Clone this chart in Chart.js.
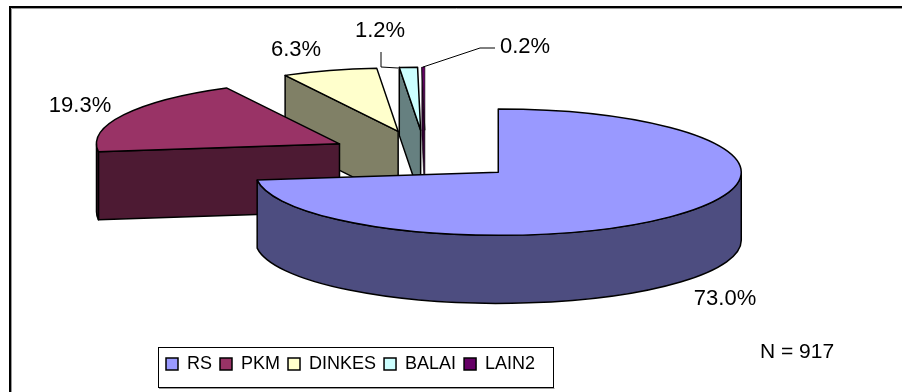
<!DOCTYPE html>
<html>
<head>
<meta charset="utf-8">
<style>
  html, body { margin: 0; padding: 0; background: #fff; }
  #box { position: relative; width: 902px; height: 392px; }
</style>
<script src="https://cdn.jsdelivr.net/npm/chart.js@4"></script>
</head>
<body>
<div id="box"><canvas id="pie3d" width="902" height="392"></canvas></div>
<script>
const categories = ['RS', 'PKM', 'DINKES', 'BALAI', 'LAIN2'];
const percents = [73.0, 19.3, 6.3, 1.2, 0.2];
const percentLabels = ['73.0%', '19.3%', '6.3%', '1.2%', '0.2%'];
const topColors = ['#9999FF', '#993366', '#FFFFCC', '#CCFFFF', '#660066'];
const sideColors = ['#4D4D80', '#4D1A33', '#808066', '#668080', '#330033'];
const labelSpots = [[725, 299], [80, 106], [296, 50], [380, 31], [525, 47]];
const totalNote = 'N = 917';

const tilt = 0.26;    // aplatissement de l'ellipse
const depth = 68;     // hauteur du "gateau"
const explode = 97;   // ecart des parts, lu dans arc.options.offset

// Position (x, y) a l'ecran d'un point de la part
function project(arc, angle, r, drop) {
  const mid = (arc.startAngle + arc.endAngle) / 2;
  const shift = arc.options.offset;
  return [
    arc.x + Math.cos(mid) * shift + Math.cos(angle) * r,
    arc.y + (Math.sin(mid) * shift + Math.sin(angle) * r) * tilt + drop
  ];
}

function strokeFill(ctx, fill) {
  ctx.fillStyle = fill;
  ctx.fill();
  ctx.stroke();
}

// Face plane visible de la coupe (seulement celles tournees vers l'avant)
function drawCut(ctx, arc, angle, fill) {
  const a = project(arc, angle, 0, 0);
  const b = project(arc, angle, arc.outerRadius, 0);
  ctx.beginPath();
  ctx.moveTo(a[0], a[1]);
  ctx.lineTo(b[0], b[1]);
  ctx.lineTo(b[0], b[1] + depth);
  ctx.lineTo(a[0], a[1] + depth);
  ctx.closePath();
  strokeFill(ctx, fill);
}

// Bord exterieur de la part, seulement la moitie avant de l'ellipse
function drawRim(ctx, arc, fill) {
  const first = Math.max(arc.startAngle, 0);
  const last = Math.min(arc.endAngle, Math.PI);
  if (last <= first) return;
  const o = project(arc, 0, 0, 0);
  const r = arc.outerRadius;
  ctx.beginPath();
  ctx.ellipse(o[0], o[1], r, r * tilt, 0, first, last);
  ctx.ellipse(o[0], o[1] + depth, r, r * tilt, 0, last, first, true);
  ctx.closePath();
  strokeFill(ctx, fill);
}

function drawTop(ctx, arc, fill) {
  const o = project(arc, 0, 0, 0);
  const r = arc.outerRadius;
  ctx.beginPath();
  ctx.moveTo(o[0], o[1]);
  ctx.ellipse(o[0], o[1], r, r * tilt, 0, arc.startAngle, arc.endAngle);
  ctx.closePath();
  strokeFill(ctx, fill);
}

const pie3dPlugin = {
  id: 'pie3d',
  afterLayout(chart) {
    // la legende encadree n'est pas collee au bord
    const legend = chart.legend;
    legend.left = 158;
    legend.right = 553;
    legend.top = 347;
    legend.bottom = 387;
  },
  beforeDatasetDraw(chart, args) {
    const ctx = chart.ctx;
    const arcs = args.meta.data;
    ctx.save();
    ctx.strokeStyle = '#000';
    ctx.lineJoin = 'round';
    // de l'arriere vers l'avant
    for (let i = arcs.length - 1; i >= 0; i--) {
      const arc = arcs[i];
      // trait fin sur la toute petite part, sinon elle devient noire
      ctx.lineWidth = arc.circumference < 0.02 ? 0.6 : 1.5;
      if (Math.cos(arc.startAngle) < -1e-6) drawCut(ctx, arc, arc.startAngle, sideColors[i]);
      if (Math.cos(arc.endAngle) > 1e-6) drawCut(ctx, arc, arc.endAngle, sideColors[i]);
      drawRim(ctx, arc, sideColors[i]);
      drawTop(ctx, arc, topColors[i]);
    }
    ctx.restore();
    return false;
  },
  afterDraw(chart) {
    const ctx = chart.ctx;
    ctx.save();
    // cadre du graphique (haut et gauche seulement, le reste sort de l'image)
    ctx.strokeStyle = '#999';
    ctx.lineWidth = 1;
    ctx.beginPath();
    ctx.moveTo(902, 8.5); ctx.lineTo(11.5, 8.5); ctx.lineTo(11.5, 392);
    ctx.stroke();
    ctx.strokeStyle = '#000';
    ctx.lineWidth = 2;
    ctx.beginPath();
    ctx.moveTo(902, 7); ctx.lineTo(10, 7); ctx.lineTo(10, 392);
    ctx.stroke();
    // cadre de la legende
    const legend = chart.legend;
    ctx.strokeStyle = '#999';
    ctx.lineWidth = 1;
    ctx.beginPath();
    ctx.moveTo(legend.left + 1, legend.bottom + 1.5);
    ctx.lineTo(legend.right + 1.5, legend.bottom + 1.5);
    ctx.stroke();
    ctx.strokeStyle = '#000';
    ctx.strokeRect(legend.left + 0.5, legend.top + 0.5, legend.right - legend.left, legend.bottom - legend.top);
    // lignes de rappel
    ctx.beginPath();
    ctx.moveTo(381, 52); ctx.lineTo(381, 67); ctx.lineTo(398, 68);
    ctx.moveTo(495, 48); ctx.lineTo(480, 48); ctx.lineTo(423, 67);
    ctx.stroke();
    // etiquettes
    ctx.fillStyle = '#000';
    ctx.font = '22px "Liberation Sans", Arial, sans-serif';
    ctx.textAlign = 'center';
    ctx.textBaseline = 'middle';
    percentLabels.forEach((txt, i) => ctx.fillText(txt, labelSpots[i][0], labelSpots[i][1]));
    ctx.font = '21px "Liberation Sans", Arial, sans-serif';
    ctx.fillText(totalNote, 797, 352);
    ctx.restore();
  }
};

new Chart(document.getElementById('pie3d').getContext('2d'), {
  type: 'pie',
  data: {
    labels: categories,
    datasets: [{
      data: percents,
      backgroundColor: topColors,
      borderColor: '#000',
      borderWidth: 1.5,
      offset: explode,
      clip: false
    }]
  },
  options: {
    responsive: false,
    animation: false,
    events: [],
    datasets: { pie: { radius: 243 } },
    layout: { padding: { top: 0, left: 0, right: 51, bottom: 45 } },
    plugins: {
      tooltip: { enabled: false },
      legend: {
        position: 'bottom',
        align: 'start',
        labels: {
          color: '#000',
          boxWidth: 12,
          boxHeight: 12,
          padding: 8,
          font: { family: '"Liberation Sans", Arial, sans-serif', size: 18 }
        }
      }
    }
  },
  plugins: [pie3dPlugin]
});
</script>
</body>
</html>
